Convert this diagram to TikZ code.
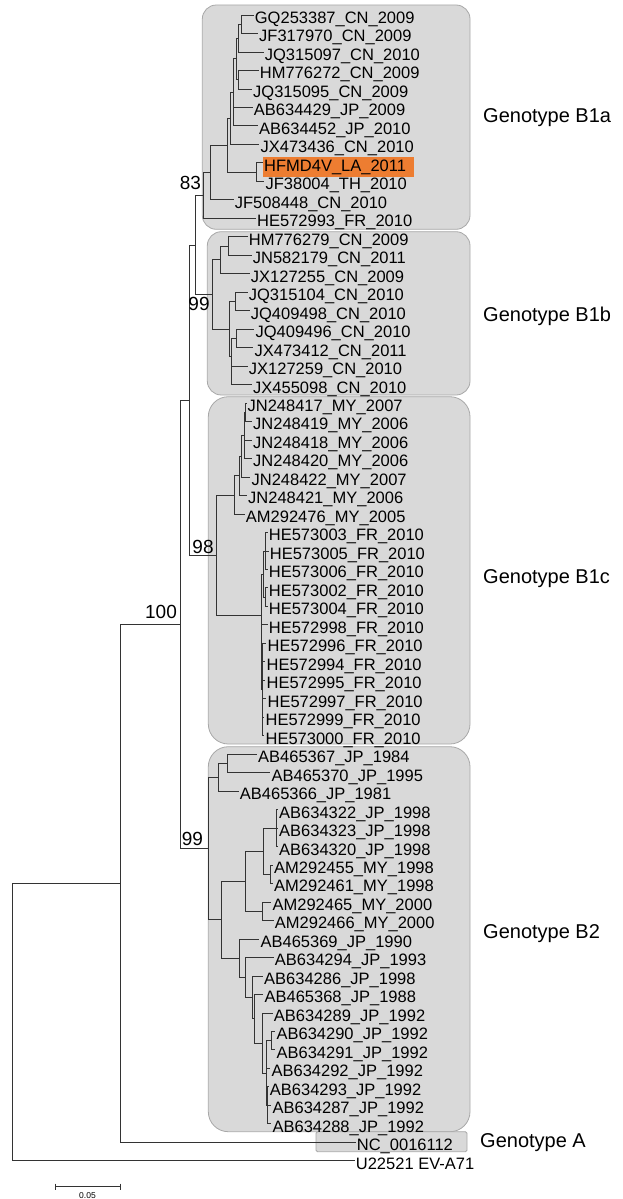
\documentclass[tikz,border=0pt]{standalone}
\usepackage{fontspec}
\setmainfont{Liberation Sans}
\definecolor{treeline}{HTML}{333333}
\definecolor{cladefill}{HTML}{D9D9D9}
\definecolor{cladeedge}{HTML}{A8A8A8}
\definecolor{hilite}{HTML}{ED7D31}
\tikzset{
  br/.style={draw=treeline, line width=0.8pt},
  leaf/.style={anchor=west, inner sep=1.2pt, text height=16.8pt, text depth=0pt, font=\fontsize{16.5}{18}\selectfont},
  boot/.style={inner sep=0pt, font=\fontsize{19}{21}\selectfont},
  geno/.style={anchor=west, inner sep=0pt, font=\fontsize{20}{22}\selectfont},
  cladebox/.style={fill=cladefill, draw=cladeedge, line width=0.8pt},
}
\begin{document}
\begin{tikzpicture}[x=1pt,y=-1pt]
\path[use as bounding box] (0,0) rectangle (622,1199);
% clade boxes
\draw[cladebox, rounded corners=14pt] (202.3,5) rectangle (470,229.3);
\draw[cladebox, rounded corners=14pt] (207.3,231.7) rectangle (470,395);
\draw[cladebox, rounded corners=20pt] (208.3,396.7) rectangle (470,744);
\draw[cladebox, rounded corners=20pt] (208.3,746.7) rectangle (470,1131.7);
\draw[cladebox, rounded corners=1.5pt] (316,1131.7) rectangle (467,1151.7);
% highlight
\fill[hilite] (263.3,157.3) rectangle (414,176.7);
\begin{scope}[y=-18.48pt, yshift=-15pt]
% leaves
\foreach \nm/\lx/\iy/\tx in {
 gq253387/253.5/0/GQ253387\_CN\_2009,
 jf317970/257.8/1/JF317970\_CN\_2009,
 jq315097/263.5/2/JQ315097\_CN\_2010,
 hm776272/258.5/3/HM776272\_CN\_2009,
 jq315095/251.8/4/JQ315095\_CN\_2009,
 ab634429/252.5/5/AB634429\_JP\_2009,
 ab634452/257.8/6/AB634452\_JP\_2010,
 jx473436/259.2/7/JX473436\_CN\_2010,
 hfmd4v/262.8/8/HFMD4V\_LA\_2011,
 jf38004/264.2/9/JF38004\_TH\_2010,
 jf508448/233.5/10/JF508448\_CN\_2010,
 he572993/255.8/11/HE572993\_FR\_2010,
 hm776279/247.5/12/HM776279\_CN\_2009,
 jn582179/251.5/13/JN582179\_CN\_2011,
 jx127255/249.5/14/JX127255\_CN\_2009,
 jq315104/247.5/15/JQ315104\_CN\_2010,
 jq409498/249.5/16/JQ409498\_CN\_2010,
 jq409496/254.2/17/JQ409496\_CN\_2010,
 jx473412/253.2/18/JX473412\_CN\_2011,
 jx127259/247.5/19/JX127259\_CN\_2010,
 jx455098/251.8/20/JX455098\_CN\_2010,
 jn248417/246.2/21/JN248417\_MY\_2007,
 jn248419/251.8/22/JN248419\_MY\_2006,
 jn248418/251.8/23/JN248418\_MY\_2006,
 jn248420/251.8/24/JN248420\_MY\_2006,
 jn248422/250.2/25/JN248422\_MY\_2007,
 jn248421/246.8/26/JN248421\_MY\_2006,
 am292476/244.5/27/AM292476\_MY\_2005,
 he573003/267.5/28/HE573003\_FR\_2010,
 he573005/268.5/29/HE573005\_FR\_2010,
 he573006/267.5/30/HE573006\_FR\_2010,
 he573002/267.5/31/HE573002\_FR\_2010,
 he573004/267.5/32/HE573004\_FR\_2010,
 he572998/267.5/33/HE572998\_FR\_2010,
 he572996/266.2/34/HE572996\_FR\_2010,
 he572994/265.2/35/HE572994\_FR\_2010,
 he572995/265.2/36/HE572995\_FR\_2010,
 he572997/266.2/37/HE572997\_FR\_2010,
 he572999/264.2/38/HE572999\_FR\_2010,
 he573000/264.2/39/HE573000\_FR\_2010,
 ab465367/256.8/40/AB465367\_JP\_1984,
 ab465370/270.2/41/AB465370\_JP\_1995,
 ab465366/238.5/42/AB465366\_JP\_1981,
 ab634322/277.8/43/AB634322\_JP\_1998,
 ab634323/277.8/44/AB634323\_JP\_1998,
 ab634320/277.8/45/AB634320\_JP\_1998,
 am292455/272.8/46/AM292455\_MY\_1998,
 am292461/272.8/47/AM292461\_MY\_1998,
 am292465/271.2/48/AM292465\_MY\_2000,
 am292466/273.5/49/AM292466\_MY\_2000,
 ab465369/259.2/50/AB465369\_JP\_1990,
 ab634294/273.5/51/AB634294\_JP\_1993,
 ab634286/262.8/52/AB634286\_JP\_1998,
 ab465368/263.2/53/AB465368\_JP\_1988,
 ab634289/272.5/54/AB634289\_JP\_1992,
 ab634290/275.2/55/AB634290\_JP\_1992,
 ab634291/275.2/56/AB634291\_JP\_1992,
 ab634292/270.2/57/AB634292\_JP\_1992,
 ab634293/268.5/58/AB634293\_JP\_1992,
 ab634287/271.2/59/AB634287\_JP\_1992,
 ab634288/271.2/60/AB634288\_JP\_1992,
 nc/355.5/61/NC\_0016112,
 u22521/354.5/62/U22521 EV-A71}
 {\node[leaf] (\nm) at (\lx,\iy) {\tx};}
% internal nodes
\coordinate (a1) at (241.7,0.5);
\coordinate (a2) at (238.3,1.25);
\coordinate (a3) at (238.3,3.5);
\coordinate (a4) at (236.7,2.375);
\coordinate (a5) at (233.3,4.1875);
\coordinate (a6) at (230,5.59375);
\coordinate (a7) at (256,8.5);
\coordinate (a8) at (227.3,7.046875);
\coordinate (a9) at (210,8.5234);
\coordinate (a10) at (203.3,9.7617);
\coordinate (b1) at (228.3,12.5);
\coordinate (b2) at (220.7,13.25);
\coordinate (b3) at (235.7,15.5);
\coordinate (b4) at (236.7,17.5);
\coordinate (b5) at (231.7,19.5);
\coordinate (b6) at (231,18.5);
\coordinate (b7) at (229.3,17);
\coordinate (b8) at (212.3,15.125);
\coordinate (nB1) at (195,12.4434);
\coordinate (c1) at (245.5,21.5);
\coordinate (c2) at (244,22.75);
\coordinate (c3) at (241,23.875);
\coordinate (c4) at (239,24.9375);
\coordinate (c5) at (234,25.96875);
\coordinate (f1) at (265,29);
\coordinate (f2) at (265.5,31.5);
\coordinate (f3) at (263.5,30.25);
\coordinate (f4) at (262.5,36.5);
\coordinate (f6) at (261.5,34.75);
\coordinate (f5) at (261,32.5);
\coordinate (c6) at (216.7,29.2344);
\coordinate (nX) at (189.3,20.8389);
\coordinate (d1) at (227.3,40.5);
\coordinate (d2) at (218.3,41.25);
\coordinate (d3) at (276,44);
\coordinate (d4) at (270,46.5);
\coordinate (d5) at (263.3,45.25);
\coordinate (d6) at (262.7,48.5);
\coordinate (d7) at (245,46.875);
\coordinate (e1) at (271.7,55.5);
\coordinate (e2b) at (267.5,59);
\coordinate (e2) at (266.7,57.25);
\coordinate (e3) at (262.7,55.625);
\coordinate (e4b) at (254.5,54.3125);
\coordinate (e4) at (252.7,53.15625);
\coordinate (e5) at (245,52.078);
\coordinate (e6) at (239.3,51.039);
\coordinate (e7) at (221,48.957);
\coordinate (b2r) at (208.3,45.1035);
\coordinate (nY) at (180,32.9712);
\coordinate (nZ) at (120.7,46.9856);
\coordinate (nR) at (12.7,54.4928);
% branches
\foreach \p/\c in {
 a1/gq253387, a1/jf317970, a2/a1, a2/jq315097, a3/hm776272, a3/jq315095,
 a4/a2, a4/a3, a5/a4, a5/ab634429, a5/ab634452, a6/a5, a6/jx473436,
 a7/hfmd4v, a7/jf38004, a8/a6, a8/a7, a9/a8, a9/jf508448, a10/a9, a10/he572993,
 b1/hm776279, b1/jn582179, b2/b1, b2/jx127255, b3/jq315104, b3/jq409498,
 b4/jq409496, b4/jx473412, b5/jx127259, b5/jx455098, b6/b4, b6/b5,
 b7/b3, b7/b6, b8/b2, b8/b7, nB1/a10, nB1/b8,
 c1/jn248417, c1/jn248419, c2/c1, c2/jn248418, c2/jn248420, c3/c2, c3/jn248422,
 c4/c3, c4/jn248421, c5/c4, c5/am292476,
 f1/he573003, f1/he573005, f1/he573006, f2/he573002, f2/he573004, f3/f1, f3/f2,
 f4/he572996, f4/he572994, f4/he572995, f4/he572997, f4/he572999, f4/he573000,
 f6/he572998, f6/f4, f5/f3, f5/f6, c6/c5, c6/f5, nX/nB1, nX/c6,
 d1/ab465367, d1/ab465370, d2/d1, d2/ab465366,
 d3/ab634322, d3/ab634323, d3/ab634320, d4/am292455, d4/am292461,
 d5/d3, d5/d4, d6/am292465, d6/am292466, d7/d5, d7/d6,
 e1/ab634290, e1/ab634291, e2b/ab634293, e2b/ab634287, e2b/ab634288,
 e2/e1, e2/ab634292, e2/e2b, e3/ab634289, e3/e2, e4b/ab465368, e4b/e3,
 e4/ab634286, e4/e4b, e5/ab634294, e5/e4, e6/ab465369, e6/e5,
 e7/d7, e7/e6, b2r/d2, b2r/e7, nY/nX, nY/b2r, nZ/nY, nZ/nc, nR/nZ, nR/u22521}
 {\draw[br] (\p) |- (\c);}
\end{scope}
% bootstrap values
\node[boot] (bs83) at (190.5,183.3) {83};
\node[boot] (bs99a) at (199,304) {99};
\node[boot] (bs98) at (203,546.7) {98};
\node[boot] (bs100) at (161,611.7) {100};
\node[boot] (bs99b) at (192.5,839.3) {99};
% genotype labels
\node[geno] (gB1a) at (483,118) {Genotype B1a};
\node[geno] (gB1b) at (483,316) {Genotype B1b};
\node[geno] (gB1c) at (483,579) {Genotype B1c};
\node[geno] (gB2) at (483,934) {Genotype B2};
\node[geno] (gA) at (480,1142.7) {Genotype A};
% scale bar
\coordinate (sb1) at (55,1186.7);
\coordinate (sb2) at (120,1186.7);
\draw[br] (sb1) -- (sb2);
\draw[br] ([yshift=3pt]sb1) -- ([yshift=-3pt]sb1);
\draw[br] ([yshift=3pt]sb2) -- ([yshift=-3pt]sb2);
\node[inner sep=0pt, font=\fontsize{8.5}{10}\selectfont] (sblab) at (87.5,1195.5) {0.05};
\end{tikzpicture}
\end{document}
